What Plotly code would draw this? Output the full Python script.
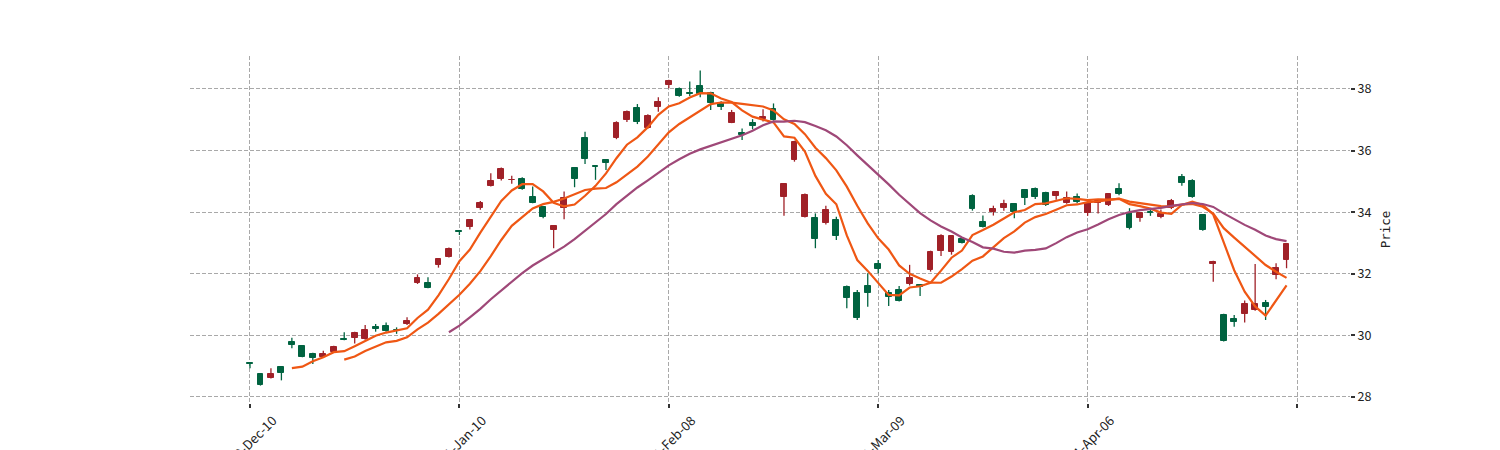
import pandas as pd
import plotly.graph_objects as go

# ---- data ----
opens = [29.11, 28.75, 28.62, 28.97, 29.80, 29.66, 29.39, 29.31, 29.47, 29.88,
         29.93, 29.88, 30.28, 30.30, 30.18, 30.36, 31.69, 31.69, 32.29, 32.55,
         33.39, 33.53, 34.12, 34.85, 35.08, 35.03, 35.07, 34.50, 34.18, 33.42,
         34.13, 35.42, 36.41, 35.50, 35.69, 36.40, 36.99, 37.37, 36.74, 37.43,
         38.13, 38.00, 37.87, 38.10, 37.86, 37.56, 36.91, 36.58, 36.89, 37.02,
         37.34, 34.50, 35.69, 33.85, 33.80, 33.66, 33.75, 31.58, 31.37, 31.60,
         32.31, 31.37, 31.47, 31.67, 31.63, 32.12, 32.74, 32.72, 33.12, 34.53,
         33.67, 34.00, 34.15, 34.27, 34.72, 34.75, 34.61, 34.54, 34.29, 34.48,
         33.98, 34.31, 34.23, 34.75, 33.96, 33.80, 34.00, 33.85, 34.13, 35.13,
         35.02, 33.91, 32.32, 30.66, 30.53, 30.69, 30.82, 31.04, 31.96, 32.45]
highs = [29.13, 28.77, 28.93, 28.99, 29.92, 29.68, 29.44, 29.50, 29.66, 30.10,
         30.12, 30.34, 30.37, 30.42, 30.26, 30.59, 31.98, 31.89, 32.50, 32.85,
         33.41, 33.77, 34.36, 35.26, 35.45, 35.18, 35.13, 34.83, 34.20, 33.58,
         34.67, 35.45, 36.61, 35.52, 35.71, 36.95, 37.30, 37.51, 37.18, 37.73,
         38.30, 38.05, 38.24, 38.60, 37.91, 37.60, 37.32, 36.72, 37.02, 37.34,
         37.53, 34.95, 36.32, 34.61, 33.96, 34.21, 33.85, 31.62, 31.47, 32.02,
         32.45, 31.47, 31.60, 32.29, 31.66, 32.75, 33.28, 33.26, 33.16, 34.58,
         33.89, 34.21, 34.40, 34.30, 34.75, 34.80, 34.66, 34.68, 34.67, 34.61,
         34.32, 34.40, 34.62, 34.94, 34.13, 34.00, 34.09, 34.09, 34.43, 35.24,
         35.07, 33.94, 32.42, 30.70, 30.66, 31.13, 32.32, 31.15, 32.34, 33.00]
lows = [28.93, 28.37, 28.60, 28.54, 29.58, 29.29, 29.07, 29.29, 29.45, 29.84,
        29.74, 29.86, 30.12, 30.12, 30.05, 30.34, 31.67, 31.53, 32.20, 32.53,
        33.26, 33.44, 34.08, 34.83, 35.03, 34.92, 34.73, 34.29, 33.80, 32.83,
        33.77, 34.81, 35.56, 35.05, 35.37, 36.37, 36.93, 36.86, 36.71, 37.26,
        38.02, 37.75, 37.77, 37.73, 37.32, 37.32, 36.89, 36.34, 36.69, 36.94,
        36.97, 33.88, 35.64, 33.83, 32.83, 33.60, 33.10, 30.88, 30.50, 30.93,
        32.02, 30.95, 31.10, 31.62, 31.28, 32.07, 32.58, 32.62, 32.98, 34.05,
        33.50, 33.89, 34.05, 33.80, 34.23, 34.43, 34.20, 34.40, 34.27, 34.29,
        33.88, 33.96, 34.20, 34.55, 33.44, 33.69, 33.88, 33.80, 34.10, 34.86,
        34.47, 33.40, 31.74, 29.80, 30.28, 30.42, 30.80, 30.50, 31.82, 32.18]
closes = [29.08, 28.39, 28.75, 28.79, 29.69, 29.31, 29.26, 29.39, 29.63, 29.85,
          30.09, 30.18, 30.20, 30.14, 30.16, 30.47, 31.85, 31.55, 32.48, 32.80,
          33.35, 33.75, 34.31, 35.02, 35.39, 35.06, 34.76, 34.31, 33.85, 33.56,
          34.45, 35.07, 35.73, 35.46, 35.59, 36.91, 37.26, 36.92, 37.12, 37.59,
          38.27, 37.78, 37.85, 37.83, 37.56, 37.43, 37.21, 36.50, 36.80, 37.08,
          36.99, 34.92, 36.29, 34.56, 33.13, 34.07, 33.24, 31.22, 30.57, 31.37,
          32.16, 31.26, 31.13, 31.85, 31.58, 32.72, 33.23, 33.23, 33.01, 34.09,
          33.53, 34.10, 34.25, 34.02, 34.45, 34.48, 34.23, 34.65, 34.45, 34.34,
          34.29, 34.37, 34.58, 34.58, 33.48, 33.98, 33.96, 33.93, 34.37, 34.94,
          34.50, 33.42, 32.39, 29.83, 30.44, 31.02, 31.02, 30.91, 32.18, 32.97]

holidays = ["2010-12-24", "2011-01-17", "2011-02-21", "2011-04-22"]
dates = pd.bdate_range("2010-12-10", periods=len(closes), freq="C", holidays=holidays)
tick_positions = [0, 20, 40, 60, 80, 100]
tick_labels = [dates[p].strftime("%Y-%b-%d") if p < len(dates) else "" for p in tick_positions]
y_ticks = [28, 30, 32, 34, 36, 38]
ma_windows = [5, 10, 20]
ma_colors = ["#ef5714", "#ef5714", "#9f4878"]

UP = "#A02128"     # red = rising
DOWN = "#006340"   # green = falling

idx = list(range(len(closes)))
fig = go.Figure()

# wicks
for color, cond in [(UP, lambda o, c: c >= o), (DOWN, lambda o, c: c < o)]:
    wx, wy = [], []
    for i in idx:
        if cond(opens[i], closes[i]):
            wx += [i, i, None]
            wy += [lows[i], highs[i], None]
    fig.add_trace(go.Scatter(x=wx, y=wy, mode="lines", line=dict(color=color, width=1.3),
                             hoverinfo="skip", showlegend=False))

# bodies
for color, cond in [(UP, lambda o, c: c >= o), (DOWN, lambda o, c: c < o)]:
    bx = [i for i in idx if cond(opens[i], closes[i])]
    base = [min(opens[i], closes[i]) for i in bx]
    hgt = [abs(closes[i] - opens[i]) for i in bx]
    fig.add_trace(go.Bar(x=bx, y=hgt, base=base, width=0.56,
                         marker=dict(color=color, line=dict(color=color, width=1)),
                         showlegend=False))

# moving averages
cs = pd.Series(closes)
for w, col in zip(ma_windows, ma_colors):
    ma = cs.rolling(w).mean()
    fig.add_trace(go.Scatter(x=idx[w - 1:], y=ma[w - 1:].tolist(), mode="lines",
                             line=dict(color=col, width=2.2), showlegend=False))

grid = dict(showgrid=True, gridcolor="#a9a9a9", gridwidth=1, griddash="4px,2px",
            zeroline=False, showline=False)
xfont = dict(family="Noto Sans CJK SC", size=13, color="#222222")
yfont = dict(family="Noto Sans CJK SC", size=12.5, color="#222222")

fig.update_layout(
    width=1500, height=450,
    margin=dict(l=190, r=150, t=56, b=47),
    plot_bgcolor="white", paper_bgcolor="white",
    barmode="overlay", bargap=0,
    showlegend=False,
    xaxis=dict(range=[-5.73, 105.06], tickmode="array", tickvals=tick_positions,
               ticktext=tick_labels, tickangle=-45, ticks="outside", ticklen=4,
               tickwidth=1.5, tickcolor="#333333", tickfont=xfont,
               ticklabelshift=23, automargin=False, **grid),
    yaxis=dict(range=[27.805, 39.07], side="right", tickmode="array", tickvals=y_ticks,
               ticks="outside", ticklen=4, tickwidth=1.5, tickcolor="#333333",
               tickfont=yfont, automargin=False,
               title=dict(text="Price", font=dict(family="DejaVu Sans Mono", size=12.5, color="#222222"),
                          standoff=10),
               **grid),
)

fig.write_html("out.html")
